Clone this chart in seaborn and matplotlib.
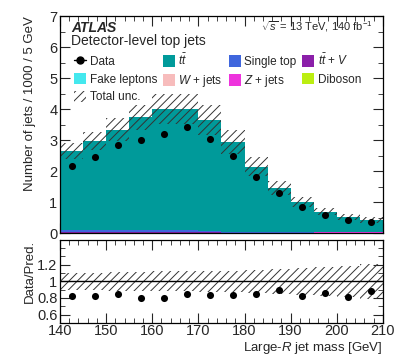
import numpy as np
import pandas as pd
import matplotlib
matplotlib.use("Agg")
import matplotlib.pyplot as plt
import seaborn as sns
from matplotlib.lines import Line2D
from matplotlib.patches import Patch
from matplotlib.ticker import MultipleLocator

# bins of large-R jet mass [GeV]
bin_edges = [140, 145, 150, 155, 160, 165, 170, 175, 180, 185, 190, 195, 200, 205, 210]

# predictions (number of jets / 1000 / 5 GeV)
ttbar = [2.55, 2.87, 3.24, 3.63, 3.90, 3.90, 3.57, 2.90, 2.10, 1.42, 0.98, 0.67, 0.51, 0.40]
single_top = [0.06, 0.06, 0.06, 0.06, 0.06, 0.06, 0.05, 0.03, 0.02, 0.02, 0.01, 0.01, 0.01, 0.01]
ttv = [0.03, 0.03, 0.03, 0.03, 0.03, 0.03, 0.02, 0.01, 0.01, 0.01, 0.01, 0.00, 0.00, 0.00]
fake = [0.005, 0.005, 0.005, 0.005, 0.005, 0.005, 0.005, 0.005, 0.005, 0.005, 0.005, 0.005, 0.005, 0.005]
wjets = [0.003, 0.003, 0.003, 0.003, 0.003, 0.003, 0.003, 0.003, 0.003, 0.003, 0.003, 0.003, 0.003, 0.003]
zjets = [0.001, 0.001, 0.001, 0.001, 0.001, 0.001, 0.001, 0.001, 0.001, 0.001, 0.001, 0.001, 0.001, 0.001]
diboson = [0.001, 0.001, 0.001, 0.001, 0.001, 0.001, 0.001, 0.001, 0.001, 0.001, 0.001, 0.001, 0.001, 0.001]

# relative total uncertainty
rel_unc = [0.10, 0.10, 0.11, 0.11, 0.12, 0.12, 0.13, 0.13, 0.14, 0.15, 0.16, 0.17, 0.19, 0.21]

# data
data = [2.17, 2.46, 2.83, 2.99, 3.19, 3.41, 3.03, 2.48, 1.82, 1.30, 0.83, 0.59, 0.43, 0.37]

processes = {
    r'$t\bar{t}$': (ttbar, '#009a9a'),
    'Diboson': (diboson, '#bbee11'),
    r'$Z$ + jets': (zjets, '#ee33dd'),
    r'$W$ + jets': (wjets, '#f7bcbc'),
    'Fake leptons': (fake, '#44e8ee'),
    'Single top': (single_top, '#3f66dd'),
    r'$t\bar{t}$ + $V$': (ttv, '#8b1fa9'),
}

edges = np.array(bin_edges, dtype=float)
centers = 0.5 * (edges[1:] + edges[:-1])
width = edges[1:] - edges[:-1]

rows = []
for name, (vals, col) in processes.items():
    for c, v in zip(centers, vals):
        rows.append({'mass': c, 'weight': v, 'process': name})
df = pd.DataFrame(rows)

total = np.sum([np.array(v) for v, _ in processes.values()], axis=0)
unc = total * np.array(rel_unc)
ratio = np.array(data) / total

sns.set_style('ticks')
plt.rcParams['font.family'] = ['Liberation Sans', 'DejaVu Sans']
plt.rcParams['mathtext.fontset'] = 'custom'
plt.rcParams['mathtext.rm'] = 'Liberation Sans'
plt.rcParams['mathtext.it'] = 'Liberation Sans:italic'
plt.rcParams['hatch.linewidth'] = 0.7

fig = plt.figure(figsize=(4.03, 3.58), dpi=100)
ax = fig.add_axes([0.149, 0.349, 0.801, 0.606])
rax = fig.add_axes([0.149, 0.098, 0.801, 0.232])

palette = {k: c for k, (_, c) in processes.items()}
sns.histplot(data=df, x='mass', weights='weight', hue='process',
             hue_order=list(processes.keys()), palette=palette,
             bins=bin_edges, multiple='stack', element='bars',
             alpha=1, linewidth=0, shrink=1, legend=False, ax=ax)

# total uncertainty band
ax.bar(centers, 2 * unc, width=width, bottom=total - unc, fill=False,
       hatch='////', edgecolor='#333333', linewidth=0)
sns.scatterplot(x=centers, y=data, color='black', s=26, edgecolor='black',
                linewidth=0, zorder=5, ax=ax)

ax.set_xlim(140, 210)
ax.set_ylim(0, 7)
ax.set_xlabel('')
ax.set_ylabel('Number of jets / 1000 / 5 GeV', fontsize=9.5, loc='top')
ax.yaxis.set_label_coords(-0.075, 1.0)
ax.set_xticklabels([])

# ratio panel
rax.bar(centers, 2 * np.array(rel_unc), width=width, bottom=1 - np.array(rel_unc),
        fill=False, hatch='////', edgecolor='#333333', linewidth=0)
rax.axhline(1, color='black', lw=1)
sns.scatterplot(x=centers, y=ratio, color='black', s=26, edgecolor='black',
                linewidth=0, zorder=5, ax=rax)
rax.set_xlim(140, 210)
rax.set_ylim(0.5, 1.5)
rax.set_yticks([0.6, 0.8, 1.0, 1.2])
rax.set_yticklabels(['0.6', '0.8', '1', '1.2'])
rax.set_ylabel('Data/Pred.', fontsize=9.5, loc='top')
rax.yaxis.set_label_coords(-0.075, 1.0)
rax.set_xlabel(r'Large-$R$ jet mass [GeV]', fontsize=9.5, loc='right', labelpad=1)

for a in (ax, rax):
    a.xaxis.set_major_locator(MultipleLocator(10))
    a.xaxis.set_minor_locator(MultipleLocator(2))
    a.tick_params(which='both', direction='in', top=True, right=True, labelsize=10.5, pad=2)
    a.tick_params(which='major', length=7, width=0.8)
    a.tick_params(which='minor', length=3.5, width=0.6)
    for s in a.spines.values():
        s.set_linewidth(0.9)
        s.set_color('black')
ax.yaxis.set_major_locator(MultipleLocator(1))
ax.yaxis.set_minor_locator(MultipleLocator(0.5))
rax.yaxis.set_minor_locator(MultipleLocator(0.1))
rax.tick_params(axis='x', pad=1)

# labels
ax.text(0.035, 0.925, 'ATLAS', transform=ax.transAxes, fontsize=10,
        fontweight='bold', fontstyle='italic')
ax.text(0.035, 0.866, 'Detector-level top jets', transform=ax.transAxes, fontsize=10)
ax.text(0.97, 0.935, r'$\sqrt{s}$ = 13 TeV, 140 fb$^{-1}$', transform=ax.transAxes,
        fontsize=8, ha='right')

# legend (column-major order to get the row layout)
h = {k: Patch(facecolor=c, edgecolor='none') for k, (_, c) in processes.items()}
h_data = Line2D([], [], color='black', marker='o', markersize=5, lw=1)
h_unc = Patch(facecolor='none', edgecolor='#333333', hatch='////', linewidth=0)
handles = [h_data, h['Fake leptons'], h_unc,
           h[r'$t\bar{t}$'], h[r'$W$ + jets'],
           h['Single top'], h[r'$Z$ + jets'],
           h[r'$t\bar{t}$ + $V$'], h['Diboson']]
labels = ['Data', 'Fake leptons', 'Total unc.',
          r'$t\bar{t}$', r'$W$ + jets',
          'Single top', r'$Z$ + jets',
          r'$t\bar{t}$ + $V$', 'Diboson']
ax.legend(handles, labels, ncol=4, loc='upper left', bbox_to_anchor=(0.03, 0.853),
          frameon=False, fontsize=8.5, handlelength=1.0, handleheight=1.1,
          handletextpad=0.3, columnspacing=0.5, labelspacing=0.42, borderaxespad=0)

fig.savefig('out.png', dpi=100)
